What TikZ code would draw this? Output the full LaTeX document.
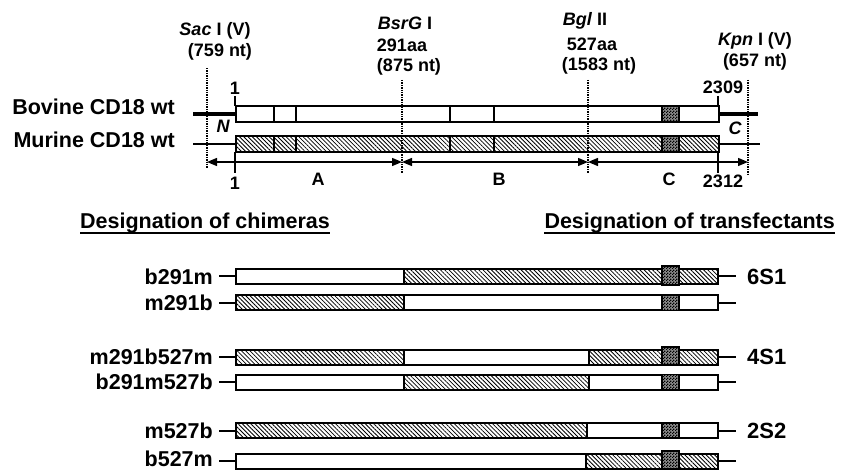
\documentclass[tikz,border=0pt]{standalone}
\usepackage{fontspec}
\setmainfont{Liberation Sans}
\usetikzlibrary{patterns,patterns.meta,arrows.meta}

% fine black/white checkerboard for the shaded domain
\pgfdeclarepatternformonly{finechecker}{\pgfqpoint{0pt}{0pt}}{\pgfqpoint{3pt}{3pt}}{\pgfqpoint{3pt}{3pt}}{%
  \pgfpathrectangle{\pgfqpoint{0pt}{0pt}}{\pgfqpoint{1.5pt}{1.5pt}}%
  \pgfpathrectangle{\pgfqpoint{1.5pt}{1.5pt}}{\pgfqpoint{1.5pt}{1.5pt}}%
  \pgfusepath{fill}}

\tikzset{
  lbl/.style={font=\bfseries\fontsize{21.5}{24}\selectfont, inner sep=0pt},
  toplbl/.style={font=\bfseries\fontsize{18}{21}\selectfont, inner sep=0pt},
  tflbl/.style={font=\bfseries\fontsize{22}{25}\selectfont, inner sep=0pt, anchor=west},
  hatch/.style={pattern={Lines[angle=-45,distance=3pt,line width=0.8pt]}},
  chk/.style={preaction={fill=black!45}, pattern=finechecker, draw, line width=1.4pt},
  topbar/.style={draw, line width=2.2pt, minimum width=483pt, minimum height=16pt, inner sep=0pt},
  bar/.style={draw, line width=2pt, minimum width=482pt, minimum height=15pt, inner sep=0pt},
  divider/.style={line width=2pt},
  thindiv/.style={line width=1.2pt},
  lead/.style={line width=2pt},
  cut/.style={densely dotted, line width=1.4pt},
  tick/.style={line width=1.6pt},
  dim/.style={line width=1.4pt, {Triangle[length=10pt,width=8pt]}-{Triangle[length=10pt,width=8pt]}},
}

\begin{document}
\begin{tikzpicture}[x=1pt,y=-1pt]
\useasboundingbox (0,0) rectangle (846,470);

% ---------- restriction sites ----------
\node[toplbl] (sac)   at (215,31) {\textit{Sac} I (V)};
\node[toplbl] (sacnt) at (220,52) {(759 nt)};
\node[toplbl] (bsr)   at (405,23) {\textit{BsrG} I};
\node[toplbl] (bsraa) at (402,45) {291aa};
\node[toplbl] (bsrnt) at (409,67) {(875 nt)};
\node[toplbl] (bgl)   at (585,21) {\textit{Bgl} II};
\node[toplbl] (bglaa) at (592,44) {527aa};
\node[toplbl] (bglnt) at (599,66) {(1583 nt)};
\node[toplbl] (kpn)   at (755,41) {\textit{Kpn} I (V)};
\node[toplbl] (kpnnt) at (755,62) {(657 nt)};

% ---------- wild-type CD18 ----------
\fill[hatch] (235,136) rectangle (718,152);
\node[topbar, anchor=west] (bov) at (235,114) {};
\node[topbar, anchor=west] (mur) at (235,144) {};
\foreach \x in {274,296,450} {
  \draw[divider] (\x,106) -- (\x,122);
  \draw[divider] (\x,136) -- (\x,152);
}
\draw[thindiv] (494,106) -- (494,122);
\draw[thindiv] (494,136) -- (494,152);
\draw[chk] (662,106) rectangle (679,122);
\draw[chk] (662,136) rectangle (679,152);

\coordinate (bovL) at (193,114);
\coordinate (bovR) at (758,114);
\coordinate (murL) at (193,144);
\coordinate (murR) at (760,144);
\draw[line width=3.6pt] (bovL) -- (bov.west);
\draw[line width=3.2pt] (bov.east) -- (bovR);
\draw[line width=2.8pt] (murL) -- (mur.west);
\draw[line width=2.8pt] (mur.east) -- (murR);

\node[lbl, anchor=east] (bovlbl) at (175,107) {Bovine CD18 wt};
\node[lbl, anchor=east] (murlbl) at (175,140) {Murine CD18 wt};

\node[toplbl, font=\bfseries\itshape\fontsize{18}{21}\selectfont] (nterm) at (223,126) {N};
\node[toplbl, font=\bfseries\itshape\fontsize{18}{21}\selectfont] (cterm) at (735,128) {C};

% position ticks
\draw[tick] (235,96) -- (235,106);
\draw[tick] (235,152) -- (235,173);
\draw[tick] (718,96) -- (718,106);
\draw[tick] (718,152) -- (718,173);
\node[toplbl] (one)   at (235,88) {1};
\node[toplbl] (n2309) at (723,87) {2309};
\node[toplbl] (oneb)  at (235,183) {1};
\node[toplbl] (n2312) at (723,181) {2312};

% cut sites
\coordinate (sacT) at (207,68);  \coordinate (sacB) at (207,168);
\coordinate (bsrT) at (402,80);  \coordinate (bsrB) at (402,173);
\coordinate (bglT) at (588,80);  \coordinate (bglB) at (588,173);
\coordinate (kpnT) at (748,80);  \coordinate (kpnB) at (748,174);
\draw[cut] (sacT) -- (sacB);
\draw[cut] (bsrT) -- (bsrB);
\draw[cut] (bglT) -- (bglB);
\draw[cut] (kpnT) -- (kpnB);

% fragments A, B, C
\coordinate (dA) at (207,162);
\coordinate (dB) at (402,162);
\coordinate (dC) at (588,162);
\coordinate (dD) at (748,162);
\draw[dim] (dA) -- (dB);
\draw[dim] (dB) -- (dC);
\draw[dim] (dC) -- (dD);
\node[toplbl] (fa) at (318,179) {A};
\node[toplbl] (fb) at (499,179) {B};
\node[toplbl] (fc) at (669,179) {C};

% ---------- headings ----------
\node[lbl, anchor=base west] (hchim) at (80,229) {Designation of chimeras};
\node[lbl, anchor=base east] (htf)   at (835,229) {Designation of transfectants};
\draw[line width=1.5pt] ([yshift=1pt]hchim.south west) -- ([yshift=1pt]hchim.south east);
\draw[line width=1.5pt] ([yshift=1pt]htf.south west) -- ([yshift=1pt]htf.south east);

% ---------- chimeras ----------
% b291m
\fill[hatch] (404,269) rectangle (718,284);
\node[bar] (c1) at (477,276.5) {};
\draw[divider] (404,269) -- (404,284);
\draw[chk] (662,266) rectangle (679,285);
% m291b
\fill[hatch] (236,295.5) rectangle (404,310.5);
\node[bar] (c2) at (477,303) {};
\draw[divider] (404,295.5) -- (404,310.5);
\draw[chk] (662,295.5) rectangle (679,310.5);
% m291b527m
\fill[hatch] (236,349.5) rectangle (404,364.5);
\fill[hatch] (589,349.5) rectangle (718,364.5);
\node[bar] (c3) at (477,357) {};
\draw[divider] (404,349.5) -- (404,364.5);
\draw[divider] (589,349.5) -- (589,364.5);
\draw[chk] (662,347) rectangle (679,365);
% b291m527b
\fill[hatch] (404,374.5) rectangle (589,389.5);
\node[bar] (c4) at (477,382) {};
\draw[divider] (404,374.5) -- (404,389.5);
\draw[divider] (589,374.5) -- (589,389.5);
\draw[chk] (662,374.5) rectangle (679,389.5);
% m527b
\fill[hatch] (236,423) rectangle (587,438);
\node[bar] (c5) at (477,430.5) {};
\draw[divider] (587,423) -- (587,438);
\draw[chk] (662,423) rectangle (679,438);
% b527m
\fill[hatch] (586,453.5) rectangle (718,468.5);
\node[bar] (c6) at (477,461) {};
\draw[divider] (586,453.5) -- (586,468.5);
\draw[chk] (662,451) rectangle (679,469);

% chimera names
\node[lbl, anchor=east] (l1) at (213,276.5) {b291m};
\node[lbl, anchor=east] (l2) at (213,303)   {m291b};
\node[lbl, anchor=east] (l3) at (213,357)   {m291b527m};
\node[lbl, anchor=east] (l4) at (213,382)   {b291m527b};
\node[lbl, anchor=east] (l5) at (213,430.5) {m527b};
\node[lbl, anchor=east] (l6) at (213,459)   {b527m};
\foreach \i in {1,...,5} {
  \draw[lead] (c\i.west) -- ([xshift=6pt]l\i.east);
}
\coordinate (s6) at (219,461);
\draw[lead] (c6.west) -- (s6);

% transfectant names
\node[tflbl] (t1) at (747,276.5) {6S1};
\node[tflbl] (t3) at (747,357)   {4S1};
\node[tflbl] (t5) at (747,430.5) {2S2};
\draw[lead] (c1.east) -- ([xshift=-11pt]t1.west);
\draw[lead] (c3.east) -- ([xshift=-11pt]t3.west);
\draw[lead] (c5.east) -- ([xshift=-11pt]t5.west);
\coordinate (e2) at (736,303);
\coordinate (e4) at (736,382);
\coordinate (e6) at (736,461);
\draw[lead] (c2.east) -- (e2);
\draw[lead] (c4.east) -- (e4);
\draw[lead] (c6.east) -- (e6);
\end{tikzpicture}
\end{document}
